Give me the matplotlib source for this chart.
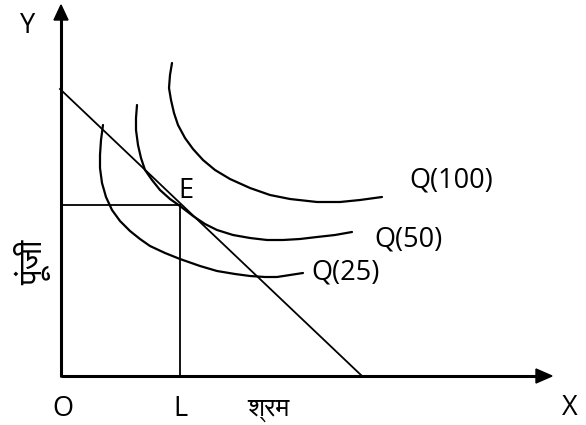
import matplotlib
matplotlib.use("Agg")
import matplotlib.pyplot as plt
from matplotlib import font_manager

# ---- data (in pixel space of the 586x425 canvas) ----
origin = (61, 376)
x_axis_end = 552
y_axis_end = 5

budget_x = [60, 362]
budget_y = [89, 376]

E_point = (180, 205)

q25_x = [103, 101, 100, 100, 102, 106, 112, 120, 130, 140, 150, 165, 180, 200,
         217, 235, 250, 265, 277, 290, 303]
q25_y = [125, 140, 155, 168, 183, 197, 210, 221, 231, 239, 246, 253, 259, 266,
         271, 274, 276, 277, 277, 275, 273]

q50_x = [137, 136, 136, 138, 141, 145, 152, 160, 170, 180, 193, 205, 217, 233,
         250, 267, 283, 300, 317, 335, 352]
q50_y = [105, 118, 130, 145, 158, 170, 180, 190, 199, 206, 216, 224, 230, 235,
         238, 240, 240, 239, 237, 235, 232]

q100_x = [172, 170, 169, 171, 174, 178, 185, 193, 203, 215, 230, 250, 270, 290,
          317, 340, 360, 382]
q100_y = [63, 75, 88, 100, 113, 125, 138, 149, 160, 170, 179, 188, 195, 199,
          202, 202, 200, 197]

curve_labels = ["Q(25)", "Q(50)", "Q(100)"]
label_pos = [(311, 273), (374, 239), (409, 180)]

# ---- fonts ----
latin = "Open Sans"
deva_family = ["DejaVu Sans"]
for f in font_manager.findSystemFonts():
    if f.split("/")[-1] == "FreeSans.ttf":
        font_manager.fontManager.addfont(f)
        deva_family = [font_manager.FontProperties(fname=f).get_name(), "DejaVu Sans"]
        break

fig = plt.figure(figsize=(5.86, 4.25), dpi=100)
ax = fig.add_axes([0, 0, 1, 1])
ax.set_xlim(0, 586)
ax.set_ylim(425, 0)
ax.axis("off")

# axes with arrows
ox, oy = origin
ax.plot([ox, x_axis_end - 14], [oy, oy], color="black", lw=2.2, solid_capstyle="butt")
ax.plot([ox, ox], [oy + 1, y_axis_end + 14], color="black", lw=2.2, solid_capstyle="butt")
ax.add_patch(plt.Polygon([[x_axis_end, oy], [x_axis_end - 16, oy - 7], [x_axis_end - 16, oy + 7]],
                         closed=True, color="black"))
ax.add_patch(plt.Polygon([[ox, y_axis_end], [ox - 7, y_axis_end + 15], [ox + 7, y_axis_end + 15]],
                         closed=True, color="black"))

# budget line
ax.plot(budget_x, budget_y, color="black", lw=1.3)

# isoquants
for xs, ys in [(q25_x, q25_y), (q50_x, q50_y), (q100_x, q100_y)]:
    ax.plot(xs, ys, color="black", lw=1.6, solid_joinstyle="round",
            solid_capstyle="round")

# equilibrium guides
ex, ey = E_point
ax.plot([ox, ex], [ey, ey], color="black", lw=1.3)
ax.plot([ex, ex], [ey, oy], color="black", lw=1.3)

fs = 19.5
for lab, (lx, ly) in zip(curve_labels, label_pos):
    ax.text(lx, ly, lab, fontsize=fs, family=latin, ha="left", va="center")

ax.text(186, 191, "E", fontsize=fs, family=latin, ha="center", va="center")
ax.text(28, 26, "Y", fontsize=fs, family=latin, ha="center", va="center")
ax.text(570, 408, "X", fontsize=fs, family=latin, ha="center", va="center")
ax.text(63, 409, "O", fontsize=fs, family=latin, ha="center", va="center")
ax.text(180, 409, "L", fontsize=fs, family=latin, ha="center", va="center")
ax.text(268, 409, "श्रम", fontsize=19, family=deva_family, ha="center", va="center")
ax.text(33, 262, "पूंजी", fontsize=23, family=deva_family, ha="center", va="center",
        rotation=90)

fig.savefig("out.png", dpi=100)
